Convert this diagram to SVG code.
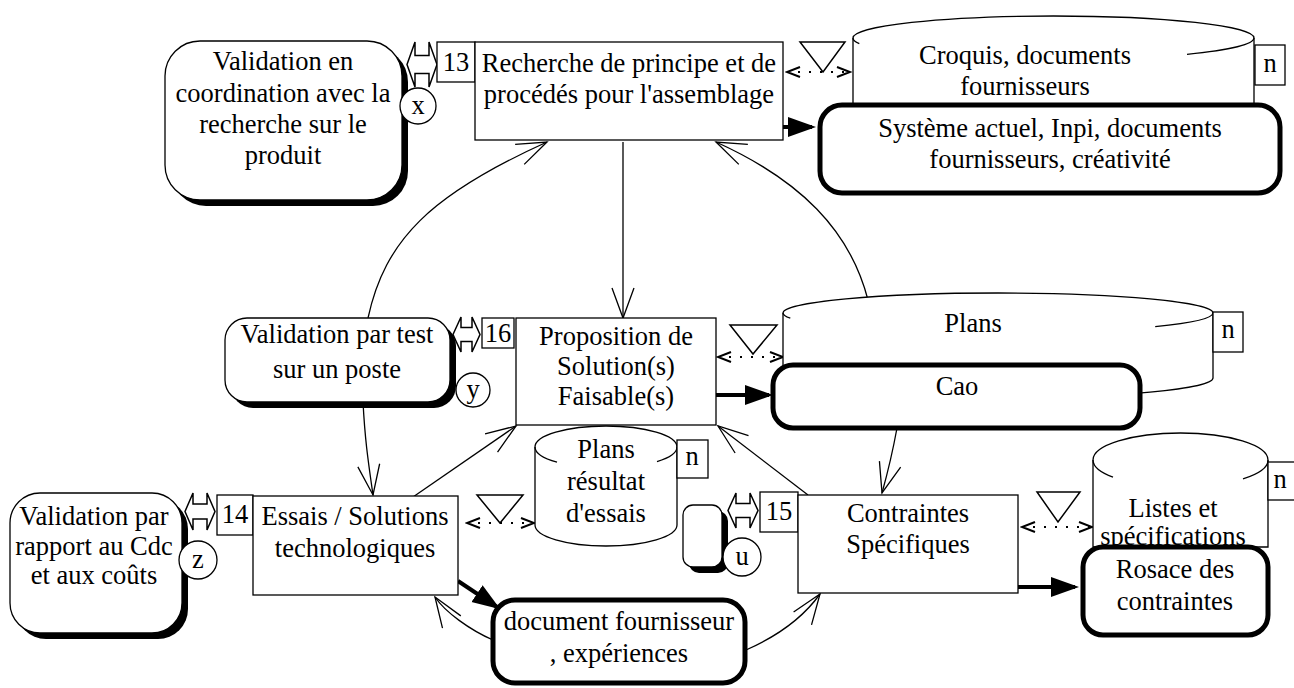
<svg xmlns="http://www.w3.org/2000/svg" width="1294" height="688" viewBox="0 0 1294 688">
<style>
  text { font-family: 'Liberation Serif', 'Times New Roman', serif; font-size: 26.5px; fill: #000; text-anchor: middle; }
  .box { fill: #fff; stroke: #000; stroke-width: 1.3; }
  .thick { fill: #fff; stroke: #000; stroke-width: 5; }
  .shadow { fill: #000; stroke: none; }
  .line { fill: none; stroke: #000; stroke-width: 1.3; }
  .conn { fill: none; stroke: #000; stroke-width: 1.3; marker-end: url(#vopen); }
  .bold { fill: none; stroke: #000; stroke-width: 4; marker-end: url(#solid); }
  .dash { fill: none; stroke: #000; stroke-width: 1.8; stroke-dasharray: 2 9; marker-start: url(#chev); marker-end: url(#chev); }
  .tri { fill: #fff; stroke: #000; stroke-width: 1.5; }
  .dbl { fill: #fff; stroke: #000; stroke-width: 1.5; }
</style>
<defs>
  <marker id="vopen" markerUnits="userSpaceOnUse" markerWidth="34" markerHeight="26" refX="31" refY="12" orient="auto" viewBox="0 0 34 26">
    <path d="M1,1 L31,12 L1,23" fill="none" stroke="#000" stroke-width="1.3"/>
  </marker>
  <marker id="solid" markerUnits="userSpaceOnUse" markerWidth="30" markerHeight="24" refX="24" refY="11" orient="auto" viewBox="0 0 30 24">
    <path d="M0,1 L28,11 L0,21 z" fill="#000"/>
  </marker>
  <marker id="chev" markerUnits="userSpaceOnUse" markerWidth="16" markerHeight="14" refX="14" refY="6" orient="auto-start-reverse" viewBox="0 0 16 12">
    <path d="M1,1 L14,6 L1,11" fill="none" stroke="#000" stroke-width="2"/>
  </marker>
</defs>

<!-- connectors -->
<g id="connectors">
  <path class="conn" d="M368,318 C385,240 430,195 547,142"/>
  <path class="conn" d="M868,300 C850,230 800,180 716,142"/>
  <path class="conn" d="M623,142 L623,318"/>
  <path class="conn" d="M363,402 C365,440 368,460 373,495"/>
  <path class="conn" d="M413,497 L516,426"/>
  <path class="conn" d="M808,495 L718,426"/>
  <path class="conn" d="M897,428 C893,450 887,475 882,493"/>
  <path class="conn" d="M493,640 C470,630 445,612 435,597"/>
  <path class="conn" d="M746,650 C780,635 805,615 820,594"/>
  <path class="bold" d="M783,127 L812,127"/>
  <path class="bold" d="M716,395 L769,395"/>
  <path class="bold" d="M458,581 L497,607"/>
  <path class="bold" d="M1018,587 L1075,587"/>
  <path class="dash" d="M787,72 L850,72"/>
  <path class="dash" d="M718,357 L783,357"/>
  <path class="dash" d="M467,523 L534,523"/>
  <path class="dash" d="M1022,527 L1092,527"/>
  <polygon class="tri" points="800,42 845,42 823,72"/>
  <polygon class="tri" points="730,325 777,325 753,354"/>
  <polygon class="tri" points="477,495 523,495 500,523"/>
  <polygon class="tri" points="1037,492 1080,492 1058,522"/>
</g>

<!-- Top row -->
<g id="validation-x">
  <rect class="shadow" x="171" y="47" width="237" height="159" rx="35"/>
  <rect class="box" x="165" y="41" width="237" height="159" rx="35"/>
  <text x="283" y="70">Validation en</text>
  <text x="283" y="102">coordination avec la</text>
  <text x="283" y="133">recherche sur le</text>
  <text x="283" y="164">produit</text>
</g>
<g id="marker-x">
  <circle class="box" cx="418" cy="106" r="18"/>
  <text x="418" y="114">x</text>
</g>
<g id="link-13">
  <path class="dbl" d="M407,64.5 L415,42 L415,55.5 L429,55.5 L429,42 L437,64.5 L429,87 L429,73.5 L415,73.5 L415,87 Z"/>
  <rect class="box" x="437" y="42" width="38" height="40"/>
  <text x="456" y="71">13</text>
</g>
<g id="recherche">
  <rect class="box" x="475" y="42" width="308" height="98"/>
  <text x="629" y="72">Recherche de principe et de</text>
  <text x="629" y="103">procédés pour l'assemblage</text>
</g>
<g id="croquis">
  <path class="box" d="M853,38 A200.5,22 0 0 1 1254,38 L1254,105 L853,105 Z"/>
  <path class="line" d="M1254,38 A200.5,22 0 0 1 1187,54.3"/>
  <path class="line" d="M859.3,43.7 A200.5,22 0 0 1 853,38"/>
  <text x="1025" y="64">Croquis, documents</text>
  <text x="1025" y="95">fournisseurs</text>
  <rect class="box" x="1255" y="45" width="30" height="40"/>
  <text x="1270" y="72">n</text>
</g>
<g id="systeme">
  <rect class="thick" x="820" y="105" width="460" height="88" rx="22"/>
  <text x="1050" y="137">Système actuel, Inpi, documents</text>
  <text x="1050" y="168">fournisseurs, créativité</text>
</g>

<!-- Middle row -->
<g id="validation-y">
  <rect class="shadow" x="231" y="324" width="225" height="84" rx="22"/>
  <rect class="box" x="225" y="318" width="225" height="84" rx="22"/>
  <text x="337" y="343">Validation par test</text>
  <text x="337" y="378">sur un poste</text>
</g>
<g id="marker-y">
  <circle class="box" cx="473" cy="390" r="17"/>
  <text x="473" y="398">y</text>
</g>
<g id="link-16">
  <path class="dbl" d="M453,334.5 L461,317 L461,327.5 L472,327.5 L472,317 L480,334.5 L472,352 L472,341.5 L461,341.5 L461,352 Z"/>
  <rect class="box" x="482" y="318" width="32" height="30"/>
  <text x="498" y="342">16</text>
</g>
<g id="proposition">
  <rect class="box" x="516" y="318" width="200" height="107"/>
  <text x="616" y="345">Proposition de</text>
  <text x="616" y="375">Solution(s)</text>
  <text x="616" y="405">Faisable(s)</text>
</g>
<g id="plans">
  <path class="box" d="M783,313 A215,20 0 0 1 1213,313 L1213,378 A215,20 0 0 1 783,378 Z"/>
  <path class="line" d="M1213,313 A215,20 0 0 1 1155.2,326.6"/>
  <path class="line" d="M790.3,318.2 A215,20 0 0 1 783,313"/>
  <text x="973" y="332">Plans</text>
  <rect class="box" x="1213" y="312" width="30" height="40"/>
  <text x="1228" y="338">n</text>
</g>
<g id="cao">
  <rect class="thick" x="773" y="365" width="367" height="63" rx="20"/>
  <text x="957" y="395">Cao</text>
</g>

<!-- Bottom row -->
<g id="validation-z">
  <rect class="shadow" x="16" y="499" width="172" height="140" rx="30"/>
  <rect class="box" x="10" y="493" width="172" height="140" rx="30"/>
  <text x="94" y="525">Validation par</text>
  <text x="94" y="555">rapport au Cdc</text>
  <text x="94" y="584">et aux coûts</text>
</g>
<g id="marker-z">
  <circle class="box" cx="198" cy="560" r="19"/>
  <text x="198" y="568">z</text>
</g>
<g id="link-14">
  <path class="dbl" d="M185,511.5 L193,493 L193,504 L207,504 L207,493 L215,511.5 L207,530 L207,519 L193,519 L193,530 Z"/>
  <rect class="box" x="217" y="495" width="36" height="40"/>
  <text x="235" y="523">14</text>
</g>
<g id="essais">
  <rect class="box" x="253" y="496" width="205" height="99"/>
  <text x="355" y="525">Essais / Solutions</text>
  <text x="355" y="557">technologiques</text>
</g>
<g id="plans-resultat">
  <path class="box" d="M535,447 A71,21 0 0 1 677,447 L677,525 A71,21 0 0 1 535,525 Z"/>
  <path class="line" d="M535,447 A71,21 0 0 0 557,462.2"/>
  <path class="line" d="M677,447 A71,21 0 0 1 657,461.6"/>
  <text x="606" y="458">Plans</text>
  <text x="606" y="490">résultat</text>
  <text x="606" y="522">d'essais</text>
  <rect class="box" x="677" y="440" width="31" height="38"/>
  <text x="692" y="465">n</text>
</g>
<g id="document">
  <rect class="thick" x="493" y="600" width="252" height="83" rx="22"/>
  <text x="619" y="630">document fournisseur</text>
  <text x="619" y="662">, expériences</text>
</g>
<g id="validation-u">
  <rect class="shadow" x="689" y="511" width="39" height="62" rx="10"/>
  <rect class="box" x="683" y="505" width="39" height="62" rx="10"/>
</g>
<g id="marker-u">
  <circle class="box" cx="742" cy="557" r="19"/>
  <text x="742" y="565">u</text>
</g>
<g id="link-15">
  <path class="dbl" d="M728,510.5 L736,493 L736,503.5 L750,503.5 L750,493 L758,510.5 L750,528 L750,517.5 L736,517.5 L736,528 Z"/>
  <rect class="box" x="760" y="492" width="38" height="40"/>
  <text x="779" y="520">15</text>
</g>
<g id="contraintes">
  <rect class="box" x="798" y="495" width="220" height="98"/>
  <text x="908" y="522">Contraintes</text>
  <text x="908" y="553">Spécifiques</text>
</g>
<g id="listes">
  <path class="box" d="M1093,460 A87.5,27 0 0 1 1268,460 L1268,547 L1093,547 Z"/>
  <path class="line" d="M1093,460 A87.5,27 0 0 0 1113,477.2"/>
  <path class="line" d="M1268,460 A87.5,27 0 0 1 1243,478.9"/>
  <text x="1173" y="517">Listes et</text>
  <text x="1173" y="545">spécifications</text>
  <rect class="box" x="1268" y="462" width="30" height="38"/>
  <text x="1280" y="488">n</text>
</g>
<g id="rosace">
  <rect class="thick" x="1083" y="547" width="185" height="88" rx="20"/>
  <text x="1175" y="578">Rosace des</text>
  <text x="1175" y="610">contraintes</text>
</g>
</svg>
